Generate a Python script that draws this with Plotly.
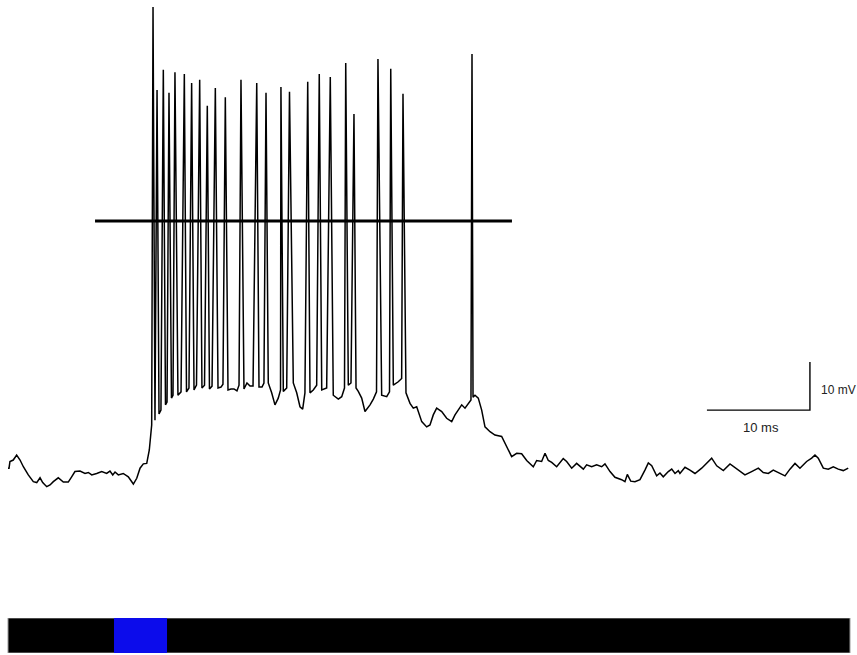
import plotly.graph_objects as go

# Membrane potential trace (time in ms, voltage in mV)
t_ms = [0.00, 0.10, 0.19, 0.51, 0.84, 1.17, 1.49, 1.97, 2.46, 2.79, 3.11, 3.37, 3.76, 4.08, 4.40,
        4.88, 5.37, 5.85, 6.18, 6.50, 6.99, 7.48, 7.80, 8.13, 8.61, 9.10, 9.58, 9.90, 10.17, 10.39,
        10.71, 11.19, 11.68, 12.17, 12.50, 12.82, 13.14, 13.47, 13.72, 13.79, 13.95, 14.08, 14.27,
        14.47, 14.66, 14.85, 15.08, 15.29, 15.44, 15.63, 15.87, 16.02, 16.21, 16.50, 16.80, 17.12,
        17.33, 17.57, 17.83, 18.06, 18.30, 18.61, 18.83, 19.08, 19.35, 19.56, 19.81, 20.13, 20.39,
        20.68, 20.87, 21.10, 21.36, 21.65, 21.94, 22.23, 22.43, 22.62, 22.91, 23.20, 23.50, 23.79,
        24.15, 24.37, 24.66, 24.85, 25.05, 25.27, 25.60, 25.92, 26.24, 26.46, 26.50, 26.73, 27.06,
        27.33, 27.70, 28.03, 28.35, 28.61, 28.83, 29.10, 29.32, 29.64, 29.97, 30.22, 30.46, 30.94,
        31.29, 31.58, 32.07, 32.40, 32.67, 32.79, 33.04, 33.30, 33.59, 33.79, 34.01, 34.34, 34.66,
        35.15, 35.47, 35.78, 35.92, 36.28, 36.77, 37.04, 37.16, 37.41, 37.89, 38.22, 38.35, 38.64,
        39.03, 39.35, 39.68, 40.17, 40.65, 40.97, 41.29, 41.62, 42.11, 42.59, 43.08, 43.40, 44.05,
        44.37, 44.85, 44.95, 45.05, 45.15, 45.34, 45.66, 45.99, 46.31, 46.80, 47.28, 47.93, 48.42,
        48.90, 49.39, 49.87, 50.36, 51.00, 51.33, 51.81, 52.14, 52.46, 52.79, 53.27, 53.91, 54.24,
        54.73, 55.21, 55.86, 56.18, 56.67, 57.15, 57.64, 57.96, 58.45, 58.93, 59.58, 59.90, 60.13,
        60.46, 60.87, 61.36, 61.84, 62.17, 62.50, 62.98, 63.30, 63.62, 64.11, 64.44, 64.76, 65.08,
        65.24, 65.73, 66.21, 66.70, 67.35, 67.83, 68.32, 68.81, 69.45, 70.10, 70.58, 71.07, 71.55,
        72.20, 72.85, 73.33, 73.82, 74.30, 74.79, 75.44, 75.92, 76.41, 76.89, 77.54, 78.03, 78.35,
        78.67, 79.16, 79.64, 80.13, 80.61, 81.10, 81.58]

v_mV = [-51.5, -51.5, -50.1, -49.8, -48.75, -49.8, -51.2, -52.9, -54.3, -54.5, -53.5, -54.5, -55.35, -55.0, -54.3,
        -53.5, -54.4, -54.4, -53.3, -52.2, -52.1, -52.6, -52.4, -52.9, -52.6, -52.2, -52.6, -52.1, -52.9, -52.3,
        -52.9, -52.6, -53.3, -54.8, -53.6, -51.5, -50.6, -50.5, -47.7, -45.6, -42.5, 44.6, -41.5,
        27.3, -40.2, -39.4, 31.5, -38.3, -37.7, 26.7, -36.9, -36.3, 31.0, -36.3, -35.6, 30.6,
        -35.6, -34.8, 28.75, -35.2, -34.2, 29.4, -34.8, -34.2, 24.0, -35.0, -34.4, 27.7, -34.8,
        -34.6, -34.0, 25.8, -35.2, -35.0, -35.0, -35.4, -34.2, 29.4, -35.0, -33.75, -34.4, -34.4,
        28.75, -34.6, -34.6, -33.75, 26.7, -33.75, -35.8, -38.3, -36.9, -35.2, 27.9, -35.5, -34.8,
        26.9, -33.75, -35.8, -38.7, -39.2, -35.8, 29.0, -35.8, -35.2, -34.2, 30.6, -35.2, -34.8,
        30.0, -36.3, -37.1, -36.6, -34.8, 32.9, -34.2, -33.75, 22.3, -34.8, -35.5, -36.9, -39.7,
        -38.3, -37.1, -35.6, 33.75, -36.3, -36.6, -35.6, 31.7, -34.2, -33.5, -32.8, 26.5, -35.8,
        -38.0, -39.0, -38.7, -41.8, -42.9, -42.5, -40.4, -39.0, -39.7, -41.1, -41.8, -40.4, -38.3,
        -39.0, -37.6, -37.3, 34.8, -36.7, -36.3, -36.9, -39.4, -42.9, -43.9, -44.6, -44.9, -47.0,
        -49.1, -48.4, -48.5, -49.9, -51.2, -49.9, -50.1, -48.4, -49.9, -50.3, -51.2, -49.5, -50.1,
        -51.5, -50.5, -51.7, -50.8, -51.2, -50.8, -51.2, -50.6, -52.2, -53.4, -53.9, -54.3, -52.8,
        -54.2, -54.3, -53.9, -51.9, -50.4, -51.0, -53.1, -52.5, -53.3, -52.2, -51.7, -52.6, -52.0,
        -52.6, -51.3, -51.9, -52.6, -51.5, -50.5, -49.4, -51.0, -52.0, -50.6, -51.3, -52.2, -52.9,
        -52.2, -51.5, -52.4, -52.6, -51.9, -52.4, -53.1, -51.7, -50.5, -51.5, -50.1, -49.4, -48.75,
        -49.4, -51.5, -51.7, -51.2, -51.7, -52.0, -51.5]

# 0 mV reference line
ref_t = [8.45, 48.93]
ref_v = [0.0, 0.0]

# Stimulus bar: recording period and light pulse
record_t = [0.0, 81.75]
light_t = [10.29, 15.44]

# Scale bar
scale_t0 = 67.86
scale_v0 = -39.4
scale_len_ms = 10
scale_len_mV = 10
scale_labels = ["10 ms", "10 mV"]

fig = go.Figure()

fig.add_trace(go.Scatter(x=t_ms, y=v_mV, mode="lines",
                         line=dict(color="black", width=1.5), hoverinfo="skip",
                         showlegend=False))
fig.add_trace(go.Scatter(x=ref_t, y=ref_v, mode="lines",
                         line=dict(color="black", width=3), hoverinfo="skip",
                         showlegend=False))
fig.add_trace(go.Scatter(x=[scale_t0, scale_t0 + scale_len_ms, scale_t0 + scale_len_ms],
                         y=[scale_v0, scale_v0, scale_v0 + scale_len_mV], mode="lines",
                         line=dict(color="black", width=1.4), hoverinfo="skip",
                         showlegend=False))

fig.add_trace(go.Bar(y=["stim"], x=[record_t[1] - record_t[0]], base=[record_t[0]],
                     orientation="h", width=1, marker=dict(color="black",
                     line=dict(color="#999999", width=1)), hoverinfo="skip",
                     xaxis="x", yaxis="y2", showlegend=False))
fig.add_trace(go.Bar(y=["stim"], x=[light_t[1] - light_t[0]], base=[light_t[0]],
                     orientation="h", width=1, marker=dict(color="#0c0ceb",
                     line=dict(width=0)), hoverinfo="skip",
                     xaxis="x", yaxis="y2", showlegend=False))

fig.add_annotation(x=scale_t0 + scale_len_ms / 2 + 0.25, y=scale_v0 - 3.7, text=scale_labels[0],
                   showarrow=False, xanchor="center", yanchor="middle",
                   font=dict(family="Liberation Sans, Arial", size=13, color="#222"))
fig.add_annotation(x=scale_t0 + scale_len_ms + 0.85, y=scale_v0 + 4.2, text=scale_labels[1],
                   showarrow=False, xanchor="left", yanchor="middle",
                   font=dict(family="Liberation Sans, Arial", size=12, color="#222"))

fig.update_layout(
    width=857, height=655,
    margin=dict(l=0, r=0, t=0, b=0),
    paper_bgcolor="white", plot_bgcolor="white",
    barmode="overlay",
    hovermode=False,
    xaxis=dict(range=[-0.777, 82.43], visible=False, fixedrange=True),
    yaxis=dict(range=[-90.42, 46.04], visible=False, domain=[0, 1], fixedrange=True),
    yaxis2=dict(range=[-0.5, 0.5], visible=False, domain=[0.003, 0.0565],
                type="category", fixedrange=True),
)

fig.write_html("out.html", config={"displayModeBar": False, "staticPlot": True},
               post_script="document.body.style.margin='0';document.body.style.overflow='hidden';")
